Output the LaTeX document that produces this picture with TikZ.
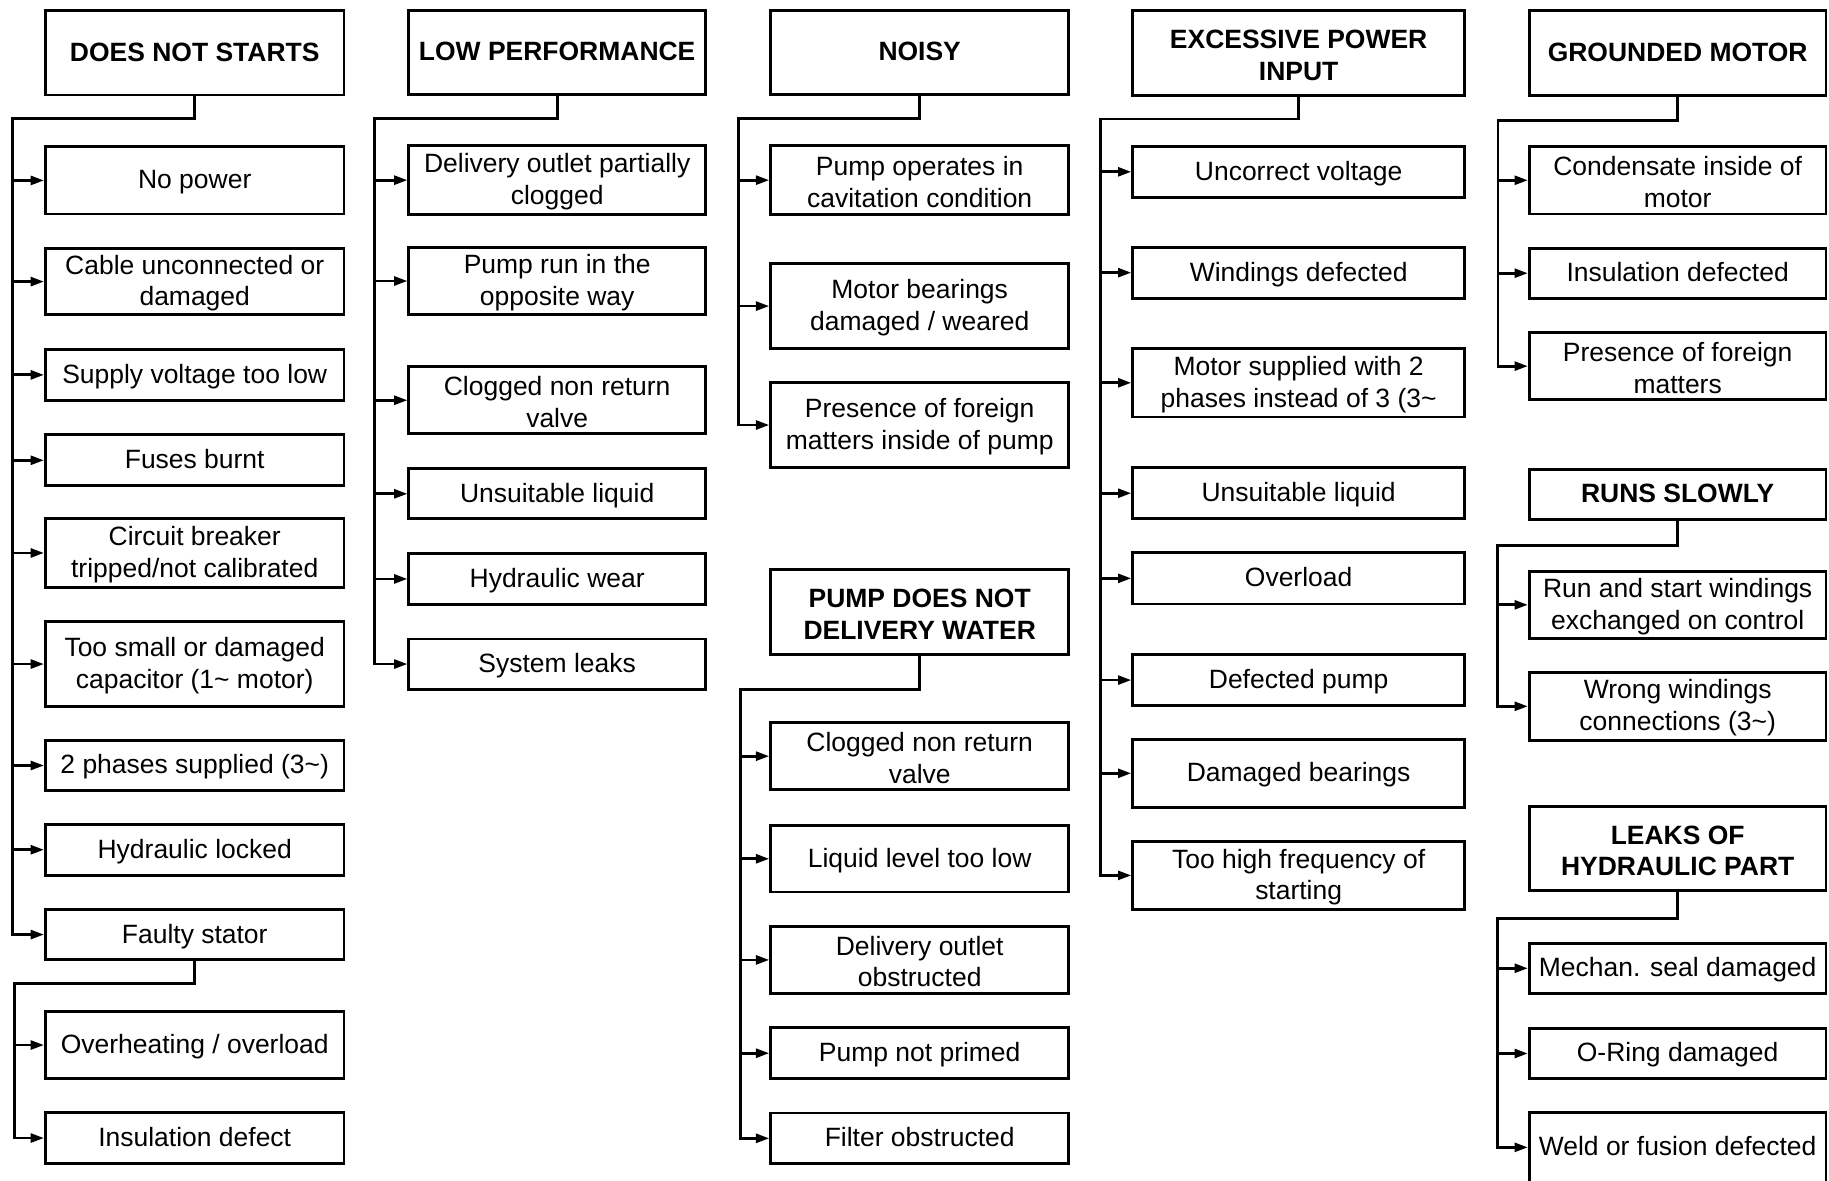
\documentclass[tikz,border=0pt]{standalone}
\usepackage{fontspec}
\setmainfont{Liberation Sans}
\usetikzlibrary{arrows.meta}
\tikzset{
  box/.style={draw, line width=1.25pt, inner sep=0pt, align=center, font=\fontsize{11.35}{13.6}\selectfont},
  hbox/.style={box, font=\fontsize{11.35}{13.6}\selectfont\bfseries},
  link/.style={line width=1.2pt},
  arr/.style={line width=1.2pt, -{Triangle[length=5.7pt,width=3.8pt]}},
}
\newcommand\cbox[7][box]{\node[#1, minimum width={(#5-#3)*0.5pt}, minimum height={(#6-#4)*0.5pt}] (#2) at ({(#3+#5)/2},{(#4+#6)/2}) {\rule[-0.21em]{0pt}{1.06em}#7};}
\begin{document}
\begin{tikzpicture}[x=0.5pt,y=-0.5pt]
\useasboundingbox (0,0) rectangle (1568.6,1012);
\clip (0,0) rectangle (1568.6,1012);
% ---------- Column 1 ----------
\cbox[hbox]{H1}{39}{9}{295}{81.5}{DOES NOT STARTS}
\cbox{a1}{39}{126}{295}{183.5}{No power}
\cbox{a2}{39}{213}{295}{270}{Cable unconnected or\\damaged}
\cbox{a3}{39}{299.5}{295}{343.5}{Supply voltage too low}
\cbox{a4}{39}{373}{295}{416.5}{Fuses burnt}
\cbox{a5}{39}{445}{295}{503.5}{Circuit breaker\\tripped/not calibrated}
\cbox{a6}{39}{533}{295}{606}{Too small or damaged\\capacitor (1\textasciitilde{} motor)}
\cbox{a7}{39}{635}{295}{678}{2 phases supplied (3\textasciitilde)}
\cbox{a8}{39}{707}{295}{750.5}{Hydraulic locked}
\cbox{a9}{39}{780}{295}{823}{Faulty stator}
\cbox{a10}{39}{867.5}{295}{925}{Overheating / overload}
\cbox{a11}{39}{954}{295}{998}{Insulation defect}
\coordinate (t1) at (11,101.4);
\draw[arr] (H1.south) |- (t1) |- (a9.west);
\foreach \n in {a1,a2,a3,a4,a5,a6,a7,a8} \draw[arr] (t1 |- \n.west) -- (\n.west);
\coordinate (t1b) at (12.5,843.6);
\draw[arr] (a9.south) |- (t1b) |- (a11.west);
\draw[arr] (t1b |- a10.west) -- (a10.west);
% ---------- Column 2 ----------
\cbox[hbox]{H2}{350.7}{9}{605}{81}{LOW PERFORMANCE}
\cbox{b1}{350.7}{125}{605}{184}{Delivery outlet partially\\clogged}
\cbox{b2}{350.7}{212}{605}{270}{Pump run in the\\opposite way}
\cbox{b3}{350.7}{314.5}{605}{372}{Clogged non return\\valve}
\cbox{b4}{350.7}{402}{605}{445}{Unsuitable liquid}
\cbox{b5}{350.7}{474.5}{605}{518.5}{Hydraulic wear}
\cbox{b6}{350.7}{548}{605}{591}{System leaks}
\coordinate (t2) at (321.5,101.4);
\draw[arr] (H2.south) |- (t2) |- (b6.west);
\foreach \n in {b1,b2,b3,b4,b5} \draw[arr] (t2 |- \n.west) -- (\n.west);
% ---------- Column 3 ----------
\cbox[hbox]{H3}{661}{9}{916.5}{81}{NOISY}
\cbox{c1}{661}{125}{916.5}{184}{Pump operates in\\cavitation condition}
\cbox{c2}{661}{226}{916.5}{299}{Motor bearings\\damaged / weared}
\cbox{c3}{661}{328}{916.5}{401}{Presence of foreign\\matters inside of pump}
\coordinate (t3) at (633.5,101.4);
\draw[arr] (H3.south) |- (t3) |- (c3.west);
\foreach \n in {c1,c2} \draw[arr] (t3 |- \n.west) -- (\n.west);
\cbox[hbox]{H4}{661}{488.6}{916.5}{561.5}{PUMP DOES NOT\\DELIVERY WATER}
\cbox{d1}{661}{620}{916.5}{677}{Clogged non return\\valve}
\cbox{d2}{661}{708}{916.5}{765}{Liquid level too low}
\cbox{d3}{661}{794.5}{916.5}{852}{Delivery outlet\\obstructed}
\cbox{d4}{661}{881.5}{916.5}{925}{Pump not primed}
\cbox{d5}{661}{954.5}{916.5}{998}{Filter obstructed}
\coordinate (t4) at (635,591);
\draw[arr] (H4.south) |- (t4) |- (d5.west);
\foreach \n in {d1,d2,d3,d4} \draw[arr] (t4 |- \n.west) -- (\n.west);
% ---------- Column 4 ----------
\cbox[hbox]{H5}{971.5}{9}{1256}{82}{EXCESSIVE POWER\\INPUT}
\cbox{e1}{971.5}{125.7}{1256}{169}{Uncorrect voltage}
\cbox{e2}{971.5}{212}{1256}{255.7}{Windings defected}
\cbox{e3}{971.5}{299}{1256}{357.6}{Motor supplied with 2\\phases instead of 3 (3\textasciitilde}
\cbox{e4}{971.5}{401}{1256}{445}{Unsuitable liquid}
\cbox{e5}{971.5}{474}{1256}{518}{Overload}
\cbox{e6}{971.5}{561.5}{1256}{605}{Defected pump}
\cbox{e7}{971.5}{634}{1256}{692.4}{Damaged bearings}
\cbox{e8}{971.5}{721.5}{1256}{780}{Too high frequency of\\starting}
\coordinate (t5) at (944,102);
\draw[arr] (H5.south) |- (t5) |- (e8.west);
\foreach \n in {e1,e2,e3,e4,e5,e6,e7} \draw[arr] (t5 |- \n.west) -- (\n.west);
% ---------- Column 5 ----------
\cbox[hbox]{H6}{1311.6}{9}{1566}{82}{GROUNDED MOTOR}
\cbox{f1}{1311.6}{125.7}{1566}{183.5}{Condensate inside of\\motor}
\cbox{f2}{1311.6}{212.9}{1566}{255.7}{Insulation defected}
\cbox{f3}{1311.6}{285}{1566}{343}{Presence of foreign\\matters}
\coordinate (t6) at (1284.7,103.5);
\draw[arr] (H6.south) |- (t6) |- (f3.west);
\foreach \n in {f1,f2} \draw[arr] (t6 |- \n.west) -- (\n.west);
\cbox[hbox]{H7}{1311.6}{402.6}{1566}{445.6}{RUNS SLOWLY}
\cbox{g1}{1311.6}{490}{1566}{547.4}{Run and start windings\\exchanged on control}
\cbox{g2}{1311.6}{576.5}{1566}{635}{Wrong windings\\connections (3\textasciitilde)}
\coordinate (t7) at (1284.3,467.6);
\draw[arr] (H7.south) |- (t7) |- (g2.west);
\draw[arr] (t7 |- g1.west) -- (g1.west);
\cbox[hbox]{H8}{1311.6}{692}{1566}{764}{LEAKS OF\\HYDRAULIC PART}
\cbox{h1}{1311.6}{808.8}{1566}{852}{Mechan. seal damaged}
\cbox{h2}{1311.6}{882}{1566}{925}{O-Ring damaged}
\cbox{h3}{1311.6}{954}{1566}{1014}{Weld or fusion defected}
\coordinate (t8) at (1284.3,788);
\draw[arr] (H8.south) |- (t8) |- (h3.west);
\foreach \n in {h1,h2} \draw[arr] (t8 |- \n.west) -- (\n.west);
\end{tikzpicture}
\end{document}
